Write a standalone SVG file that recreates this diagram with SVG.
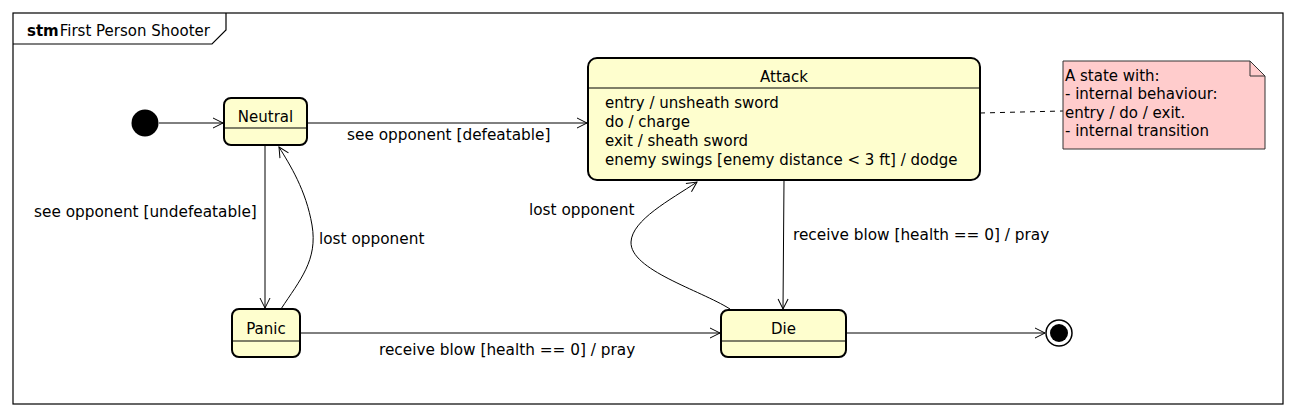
<svg xmlns="http://www.w3.org/2000/svg" width="1297" height="417" viewBox="0 0 1297 417">
<style>
text{font-family:"DejaVu Sans","Liberation Sans",sans-serif;font-size:15px;fill:#000}
.lbl{font-size:15.3px}
.state{fill:#fefece;stroke:#000;stroke-width:2}
.div{stroke:#000;stroke-width:1.2}
.edge{fill:none;stroke:#000;stroke-width:1}
.c{text-anchor:middle}
</style>
<defs>
<marker id="arr" markerUnits="userSpaceOnUse" markerWidth="14" markerHeight="14" refX="11" refY="6" orient="auto">
<path d="M1,1 L11,6 L1,11" fill="none" stroke="#000" stroke-width="1"/>
</marker>
</defs>
<g id="frame">
<rect x="13" y="13" width="1270" height="391" fill="#fff" stroke="#000" stroke-width="1.2"/>
<path d="M13,44 L212,44 L226,30 L226,13" fill="none" stroke="#000" stroke-width="1.2"/>
<text x="27" y="36"><tspan font-weight="bold">stm</tspan><tspan dx="1">First Person Shooter</tspan></text>
</g>
<g id="edges">
<path class="edge" d="M159,123 L223,123" marker-end="url(#arr)"/>
<path class="edge" d="M307,123 L587,123" marker-end="url(#arr)"/>
<path class="edge" d="M265,145 L265,308" marker-end="url(#arr)"/>
<path class="edge" d="M281,309 C300,280 318,260 312,225 C306,190 290,165 279,147" marker-end="url(#arr)"/>
<path class="edge" d="M784,180 L783,309" marker-end="url(#arr)"/>
<path class="edge" d="M730,309 C700,290 630,270 631,242 C632,220 670,200 697,182" marker-end="url(#arr)"/>
<path class="edge" d="M300,333 L720,333" marker-end="url(#arr)"/>
<path class="edge" d="M846,333 L1045,333" marker-end="url(#arr)"/>
<path class="edge" d="M980,113 L1063,111" stroke-dasharray="5,5"/>
<text class="lbl" x="347" y="140">see opponent [defeatable]</text>
<text class="lbl" x="34" y="217">see opponent [undefeatable]</text>
<text class="lbl" x="319" y="244">lost opponent</text>
<text class="lbl" x="529" y="215">lost opponent</text>
<text class="lbl" x="793" y="240">receive blow [health == 0] / pray</text>
<text class="lbl" x="379" y="355">receive blow [health == 0] / pray</text>
</g>
<g id="initial"><circle cx="145" cy="123" r="13.5" fill="#000"/></g>
<g id="neutral">
<rect class="state" x="224" y="98" width="83" height="47" rx="7"/>
<line class="div" x1="224" y1="128" x2="307" y2="128"/>
<text class="c" x="265.5" y="122">Neutral</text>
</g>
<g id="attack">
<rect class="state" x="588" y="58" width="392" height="122" rx="9"/>
<line class="div" x1="588" y1="88" x2="980" y2="88"/>
<text class="c" x="784" y="82">Attack</text>
<text x="605" y="108">entry / unsheath sword</text>
<text x="605" y="127">do / charge</text>
<text x="605" y="146">exit / sheath sword</text>
<text x="605" y="165">enemy swings [enemy distance &lt; 3 ft] / dodge</text>
</g>
<g id="note">
<path d="M1063,61 L1250,61 L1265,76 L1265,149 L1063,149 Z" fill="#ffcccc" stroke="#333" stroke-width="1"/>
<path d="M1250,61 L1250,76 L1265,76" fill="none" stroke="#333" stroke-width="1"/>
<text x="1065" y="81">A state with:</text>
<text x="1065" y="99">- internal behaviour:</text>
<text x="1065" y="118">entry / do / exit.</text>
<text x="1065" y="136">- internal transition</text>
</g>
<g id="panic">
<rect class="state" x="232" y="309" width="68" height="48" rx="7"/>
<line class="div" x1="232" y1="341" x2="300" y2="341"/>
<text class="c" x="266" y="334">Panic</text>
</g>
<g id="die">
<rect class="state" x="721" y="310" width="125" height="47" rx="7"/>
<line class="div" x1="721" y1="341" x2="846" y2="341"/>
<text class="c" x="783.5" y="334">Die</text>
</g>
<g id="final">
<circle cx="1059" cy="333" r="13" fill="none" stroke="#000" stroke-width="1.5"/>
<circle cx="1059" cy="333" r="9" fill="#000"/>
</g>
</svg>
